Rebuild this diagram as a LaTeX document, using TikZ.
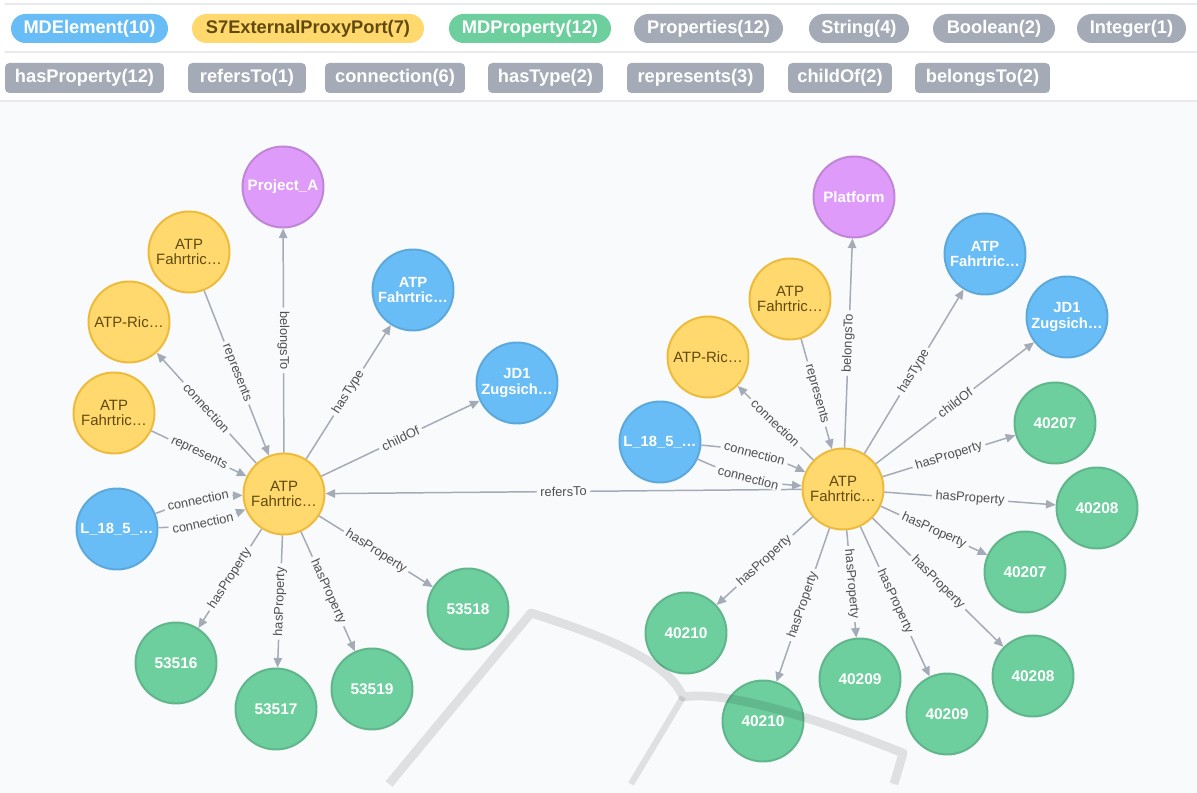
\documentclass[tikz,border=0pt]{standalone}
\usepackage{fontspec}
\setmainfont{Liberation Sans}
\usetikzlibrary{arrows.meta}
\definecolor{elemblue}{HTML}{68BDF6}
\definecolor{elembluedark}{HTML}{5CA8DB}
\definecolor{portyellow}{HTML}{FFD86E}
\definecolor{portyellowdark}{HTML}{EDBA39}
\definecolor{porttext}{HTML}{604A0E}
\definecolor{propgreen}{HTML}{6DCE9E}
\definecolor{propgreendark}{HTML}{60B58B}
\definecolor{projpurple}{HTML}{DE9BF9}
\definecolor{projpurpledark}{HTML}{BF85D6}
\definecolor{relgrey}{HTML}{A5ABB6}
\definecolor{labelgrey}{HTML}{4F4F4F}
\definecolor{canvas}{HTML}{F9FAFC}
\definecolor{rulegrey}{HTML}{E8EAEE}
\tikzset{
  gnode/.style={circle,minimum size=1.62cm,inner sep=0pt,line width=1.1pt,align=center},
  port/.style={gnode,draw=portyellowdark,fill=portyellow,text=porttext,font=\fontsize{8.5}{8.6}\selectfont},
  elem/.style={gnode,draw=elembluedark,fill=elemblue,text=white,font=\fontsize{8.4}{8.6}\selectfont\bfseries},
  prop/.style={gnode,draw=propgreendark,fill=propgreen,text=white,font=\fontsize{8.8}{9}\selectfont\bfseries},
  proj/.style={gnode,draw=projpurpledark,fill=projpurple,text=white,font=\fontsize{8.6}{9}\selectfont\bfseries},
  rel/.style={draw=relgrey,line width=0.85pt,-{Triangle[length=5.5pt,width=4.8pt]}},
  rlabel/.style={sloped,midway,fill=canvas,inner xsep=2pt,inner ysep=0.5pt,text=labelgrey,font=\fontsize{7.3}{7.3}\selectfont},
  pill/.style={rounded corners=0.29cm,minimum height=0.58cm,inner sep=0pt,font=\fontsize{10.4}{10.4}\selectfont\bfseries},
  tag/.style={fill=relgrey,text=white,rounded corners=2.5pt,minimum height=0.6cm,inner sep=0pt,font=\fontsize{10.4}{10.4}\selectfont\bfseries},
  wmark/.style={line width=5pt,black,opacity=0.1,line join=round}
}
\begin{document}
\begin{tikzpicture}[x=0.02cm,y=-0.02cm]
\useasboundingbox (0,0) rectangle (1197,793);
\fill[white] (0,0) rectangle (1197,101);
\fill[canvas] (0,101) rectangle (1197,793);
\draw[rulegrey,line width=1.1pt] (5,4) -- (1197,4);
\draw[rulegrey,line width=1.1pt] (5,52) -- (1197,52);
\draw[rulegrey,line width=1.1pt] (0,101) -- (1197,101);

% legend
\node[pill,fill=elemblue,text=white,minimum width=3.14cm] (kelem) at (89.5,28.5) {MDElement(10)};
\node[pill,fill=portyellow,text=porttext,minimum width=4.64cm] (kport) at (308,28.5) {S7ExternalProxyPort(7)};
\node[pill,fill=propgreen,text=white,minimum width=3.24cm] (kprop) at (530,28.5) {MDProperty(12)};
\node[pill,fill=relgrey,text=white,minimum width=2.98cm] (kprops) at (708.5,28.5) {Properties(12)};
\node[pill,fill=relgrey,text=white,minimum width=2.0cm] (kstr) at (859,28.5) {String(4)};
\node[pill,fill=relgrey,text=white,minimum width=2.44cm] (kbool) at (994,28.5) {Boolean(2)};
\node[pill,fill=relgrey,text=white,minimum width=2.18cm] (kint) at (1131.5,28.5) {Integer(1)};
\node[tag,minimum width=3.18cm] (thas) at (84.5,78) {hasProperty(12)};
\node[tag,minimum width=2.36cm] (tref) at (247,78) {refersTo(1)};
\node[tag,minimum width=2.8cm] (tcon) at (395,78) {connection(6)};
\node[tag,minimum width=2.3cm] (ttype) at (545.5,78) {hasType(2)};
\node[tag,minimum width=2.74cm] (trep) at (695.5,78) {represents(3)};
\node[tag,minimum width=2.08cm] (tchild) at (840,78) {childOf(2)};
\node[tag,minimum width=2.7cm] (tbel) at (982.5,78) {belongsTo(2)};

% left port
\node[port] (lc) at (284,494) {ATP\\Fahrtric…};
\node[proj] (lproj) at (283,187) {Project\_A};
\node[port] (lrep) at (189,252) {ATP\\Fahrtric…};
\node[port] (lric) at (129,322) {ATP-Ric…};
\node[port] (lrepb) at (114,413) {ATP\\Fahrtric…};
\node[elem] (lwire) at (117,529) {L\_18\_5\_…};
\node[elem] (ltype) at (413,290) {ATP\\Fahrtric…};
\node[elem] (lparent) at (517,383) {JD1\\Zugsich…};
\node[prop] (lp18) at (468,609) {53518};
\node[prop] (lp16) at (176,663) {53516};
\node[prop] (lp17) at (276,709) {53517};
\node[prop] (lp19) at (372,689) {53519};

% right port
\node[port] (rc) at (843,489) {ATP\\Fahrtric…};
\node[proj] (rproj) at (854,197) {Platform};
\node[port] (rrep) at (790,299) {ATP\\Fahrtric…};
\node[port] (rric) at (708,357) {ATP-Ric…};
\node[elem] (rwire) at (660,442) {L\_18\_5\_…};
\node[elem] (rtype) at (985,254) {ATP\\Fahrtric…};
\node[elem] (rparent) at (1067,317) {JD1\\Zugsich…};
\node[prop] (rp07a) at (1055,423) {40207};
\node[prop] (rp08a) at (1097,508) {40208};
\node[prop] (rp07b) at (1025,572) {40207};
\node[prop] (rp08b) at (1033,676) {40208};
\node[prop] (rp09a) at (947,714) {40209};
\node[prop] (rp09b) at (860,679) {40209};
\node[prop] (rp10a) at (763,721) {40210};
\node[prop] (rp10b) at (686,633) {40210};

\draw[rel] (lc) -- node[rlabel]{belongsTo} (lproj);
\draw[rel] (lrep) -- node[rlabel]{represents} (lc);
\draw[rel] (lc) -- node[rlabel]{connection} (lric);
\draw[rel] (lrepb) -- node[rlabel]{represents} (lc);
\draw[rel] (lwire) to[bend left=10] node[rlabel]{connection} (lc);
\draw[rel] (lwire) to[bend right=10] node[rlabel]{connection} (lc);
\draw[rel] (lc) -- node[rlabel]{hasType} (ltype);
\draw[rel] (lc) -- node[rlabel]{childOf} (lparent);
\draw[rel] (lc) -- node[rlabel]{hasProperty} (lp18);
\draw[rel] (lc) -- node[rlabel]{hasProperty} (lp16);
\draw[rel] (lc) -- node[rlabel]{hasProperty} (lp17);
\draw[rel] (lc) -- node[rlabel]{hasProperty} (lp19);

\draw[rel] (rc) -- node[rlabel]{refersTo} (lc);

\draw[rel] (rc) -- node[rlabel]{belongsTo} (rproj);
\draw[rel] (rrep) -- node[rlabel]{represents} (rc);
\draw[rel] (rc) -- node[rlabel]{connection} (rric);
\draw[rel] (rwire) to[bend left=10] node[rlabel]{connection} (rc);
\draw[rel] (rwire) to[bend right=10] node[rlabel]{connection} (rc);
\draw[rel] (rc) -- node[rlabel]{hasType} (rtype);
\draw[rel] (rc) -- node[rlabel]{childOf} (rparent);
\draw[rel] (rc) -- node[rlabel]{hasProperty} (rp07a);
\draw[rel] (rc) -- node[rlabel]{hasProperty} (rp08a);
\draw[rel] (rc) -- node[rlabel]{hasProperty} (rp07b);
\draw[rel] (rc) -- node[rlabel]{hasProperty} (rp08b);
\draw[rel] (rc) -- node[rlabel]{hasProperty} (rp09a);
\draw[rel] (rc) -- node[rlabel]{hasProperty} (rp09b);
\draw[rel] (rc) -- node[rlabel]{hasProperty} (rp10a);
\draw[rel] (rc) -- node[rlabel]{hasProperty} (rp10b);

% watermark
\draw[wmark] (389,784) -- (531,613) .. controls (600,635) and (668,660) .. (683,697)
  .. controls (730,690) and (820,720) .. (903,753) -- (894,784);
\draw[wmark,line width=3.6pt] (683,697) -- (631,784);
\end{tikzpicture}
\end{document}
